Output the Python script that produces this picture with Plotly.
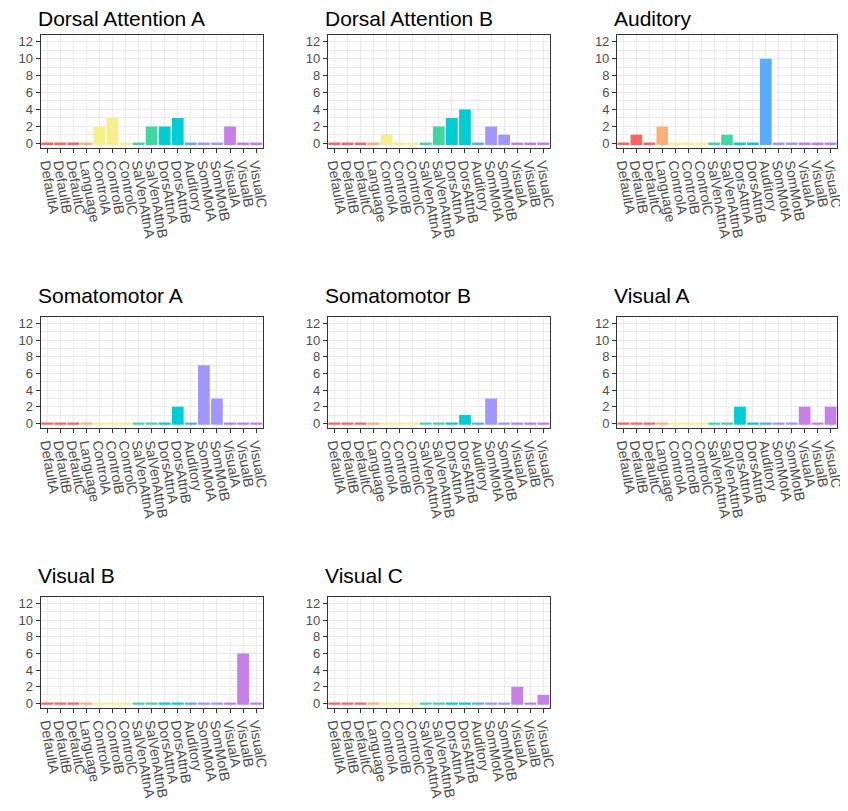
import plotly.graph_objects as go
from plotly.subplots import make_subplots

networks = ["DefaultA", "DefaultB", "DefaultC", "Language", "ControlA", "ControlB",
            "ControlC", "SalVenAttnA", "SalVenAttnB", "DorsAttnA", "DorsAttnB",
            "Auditory", "SomMotA", "SomMotB", "VisualA", "VisualB", "VisualC"]

net_colors = ["#FF6363", "#FF6363", "#FF6363", "#FFB07A", "#F6EF8C", "#F6EF8C",
              "#F6EF8C", "#41D7A3", "#41D7A3", "#00CCD3", "#00CCD3",
              "#59ADF6", "#A197FF", "#A197FF", "#C57FE7", "#C57FE7", "#C57FE7"]

panel_titles = ["Dorsal Attention A", "Dorsal Attention B", "Auditory",
                "Somatomotor A", "Somatomotor B", "Visual A",
                "Visual B", "Visual C"]

dorsal_attn_a = [0, 0, 0, 0, 2, 3, 0, 0, 2, 2, 3, 0, 0, 0, 2, 0, 0]
dorsal_attn_b = [0, 0, 0, 0, 1, 0, 0, 0, 2, 3, 4, 0, 2, 1, 0, 0, 0]
auditory = [0, 1, 0, 2, 0, 0, 0, 0, 1, 0, 0, 10, 0, 0, 0, 0, 0]
somatomotor_a = [0, 0, 0, 0, 0, 0, 0, 0, 0, 0, 2, 0, 7, 3, 0, 0, 0]
somatomotor_b = [0, 0, 0, 0, 0, 0, 0, 0, 0, 0, 1, 0, 3, 0, 0, 0, 0]
visual_a = [0, 0, 0, 0, 0, 0, 0, 0, 0, 2, 0, 0, 0, 0, 2, 0, 2]
visual_b = [0, 0, 0, 0, 0, 0, 0, 0, 0, 0, 0, 0, 0, 0, 0, 6, 0]
visual_c = [0, 0, 0, 0, 0, 0, 0, 0, 0, 0, 0, 0, 0, 0, 2, 0, 1]

panel_values = [dorsal_attn_a, dorsal_attn_b, auditory,
                somatomotor_a, somatomotor_b, visual_a,
                visual_b, visual_c]

# the page body keeps its default 8px margin, so the figure is a bit smaller
W, H = 840, 795
# plot-area pixel boxes (left, right) per column and (top, bottom) per row
col_px = [(30, 255), (321, 546), (614, 837)]
row_px = [(26, 140), (309, 421), (590, 702)]
title_shift = [3, 8, 8]

fig = make_subplots(rows=3, cols=3,
                    specs=[[{}, {}, {}], [{}, {}, {}], [{}, {}, None]])

stub = 0.18  # thin baseline mark so zero counts still show a coloured line

for i, (title, vals) in enumerate(zip(panel_titles, panel_values)):
    r, c = i // 3 + 1, i % 3 + 1
    fig.add_trace(go.Bar(x=networks, y=[stub] * len(networks), base=-stub / 2,
                         marker=dict(color=net_colors, line=dict(width=0)),
                         width=0.9, showlegend=False, hoverinfo="skip"),
                  row=r, col=c)
    fig.add_trace(go.Bar(x=networks, y=vals, name=title,
                         marker=dict(color=net_colors, line=dict(width=0)),
                         width=0.9, showlegend=False),
                  row=r, col=c)

    x0, x1 = col_px[c - 1]
    y0, y1 = row_px[r - 1]
    fig.update_xaxes(domain=[x0 / W, x1 / W], row=r, col=c)
    fig.update_yaxes(domain=[1 - y1 / H, 1 - y0 / H], row=r, col=c)

    fig.add_annotation(text=title, xref="paper", yref="paper",
                       x=x0 / W, y=1 - y0 / H, xanchor="left", yanchor="bottom",
                       yshift=title_shift[r - 1], xshift=-5, showarrow=False,
                       font=dict(size=21, color="black"))

fig.update_xaxes(type="category", categoryorder="array", categoryarray=networks,
                 tickmode="array", tickvals=networks, ticktext=networks,
                 tickangle=80, tickfont=dict(size=14, color="#4D4D4D"),
                 ticks="outside", ticklen=4, tickcolor="#333333",
                 ticklabelstandoff=-3,
                 showgrid=True, gridcolor="#EBEBEB", gridwidth=1,
                 showline=True, linecolor="#333333", linewidth=1, mirror=True,
                 zeroline=False)
fig.update_yaxes(range=[-0.61, 12.81], tickvals=[0, 2, 4, 6, 8, 10, 12],
                 tickfont=dict(size=13, color="#4D4D4D"),
                 ticks="outside", ticklen=4, tickcolor="#333333",
                 showgrid=True, gridcolor="#EBEBEB", gridwidth=1,
                 minor=dict(tickvals=[1, 3, 5, 7, 9, 11], showgrid=True,
                            gridcolor="#EBEBEB", gridwidth=0.6, ticks=""),
                 showline=True, linecolor="#333333", linewidth=1, mirror=True,
                 zeroline=False)

fig.update_layout(width=W, height=H, barmode="overlay",
                  margin=dict(l=0, r=0, t=0, b=0),
                  plot_bgcolor="white", paper_bgcolor="white",
                  font=dict(family="Liberation Sans, Arial, sans-serif"))

fig.write_html("out.html")
